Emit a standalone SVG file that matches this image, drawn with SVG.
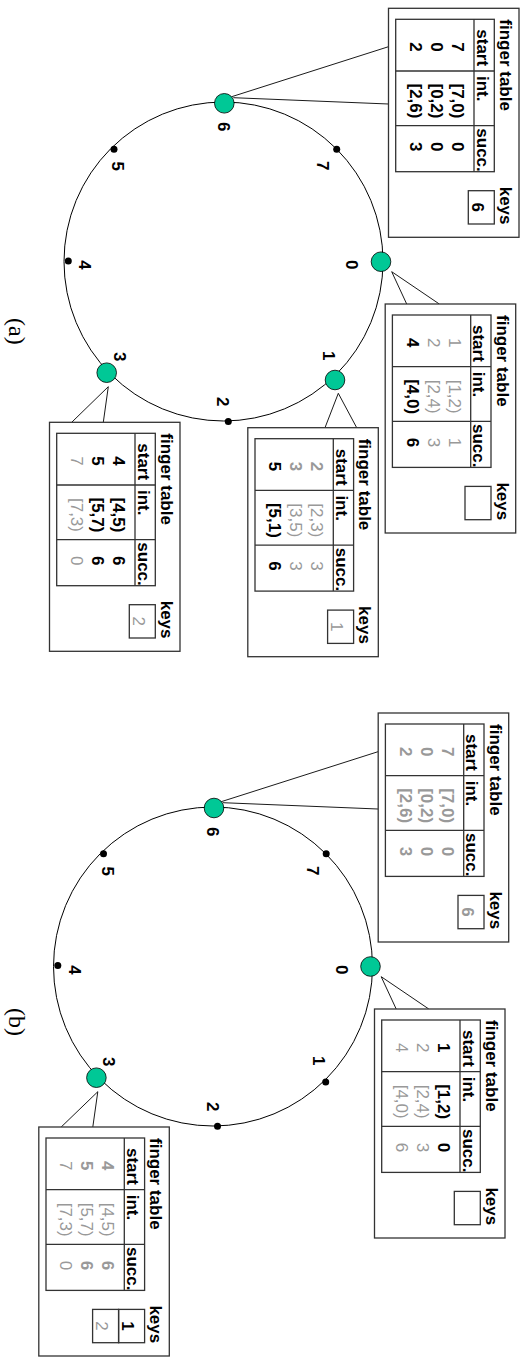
<svg xmlns="http://www.w3.org/2000/svg" xmlns:xlink="http://www.w3.org/1999/xlink" width="526" height="1364" viewBox="0 0 526 1364">
<style>
.frame{fill:#fff;stroke:#333;stroke-width:1.3}
.tbl{fill:none;stroke:#333;stroke-width:1.3}
.hdr{font-family:"Liberation Sans",Arial,sans-serif;font-weight:bold;font-size:17px;fill:#000}
.d{font-family:"Liberation Sans",Arial,sans-serif;font-size:17px;text-anchor:middle}
.bk{font-weight:bold;fill:#000}
.g{fill:#999}
.gb{fill:#999;font-weight:bold}
.ring{fill:none;stroke:#000;stroke-width:1}
.peer{fill:#00c896;stroke:#000;stroke-width:0.8}
.dot{fill:#000}
.lbl{font-family:"Liberation Sans",Arial,sans-serif;font-weight:bold;font-size:17px;text-anchor:middle;fill:#000}
.cap{font-family:"Liberation Serif","Times New Roman",serif;font-size:24px;fill:#000}
.conn line{stroke:#000;stroke-width:0.9}
</style>
<defs>
<g id="frame">
<rect class="frame" x="0" y="0" width="229" height="130.5"/>
<text class="hdr" x="11" y="19">finger table</text>
<text class="hdr" x="178.4" y="19">keys</text>
<rect class="tbl" x="11" y="24.7" width="152.4" height="98.6"/>
<path class="tbl" d="M11 45H163.4M62.7 24.7V123.3M117.4 24.7V123.3"/>
<text class="hdr" x="21" y="42.3">start</text>
<text class="hdr" x="67.7" y="42.3">int.</text>
<text class="hdr" x="120" y="42.3">succ.</text>
<rect class="tbl" x="182.4" y="24.7" width="33.3" height="26"/>
</g>
</defs>
<g transform="translate(526,0) rotate(90)">
<!-- (a) -->
<g id="ring-a">
<circle class="ring" cx="261.5" cy="302.5" r="159.5"/>
</g>
<g id="connectors" class="conn">
<line x1="96.7" y1="294.3" x2="46.7" y2="137.5"/>
<line x1="97.7" y1="292.7" x2="104" y2="137.5"/>
<line x1="271.7" y1="134.3" x2="304" y2="86.7"/>
<line x1="271.7" y1="134.3" x2="304" y2="119.3"/>
<line x1="393.3" y1="187.7" x2="427.7" y2="201"/>
<line x1="393.3" y1="187.7" x2="427.7" y2="169.3"/>
<line x1="386.7" y1="417.7" x2="422.3" y2="454.3"/>
<line x1="386.7" y1="417.7" x2="422.3" y2="422.7"/>
<line x1="801.7" y1="304.8" x2="751.7" y2="148"/>
<line x1="802.7" y1="303.2" x2="809" y2="148"/>
<line x1="976.7" y1="144.8" x2="1009" y2="97.2"/>
<line x1="976.7" y1="144.8" x2="1009" y2="129.8"/>
<line x1="1091.7" y1="428.2" x2="1127" y2="464.8"/>
<line x1="1091.7" y1="428.2" x2="1127" y2="433.2"/>
</g>
<g id="node-a0"><circle class="peer" cx="261.7" cy="145" r="9.8"/><text class="lbl" x="264.7" y="179.6">0</text></g>
<g id="node-a1"><circle class="peer" cx="380" cy="191" r="9.8"/><text class="lbl" x="355.8" y="202.9">1</text></g>
<g id="node-a2"><circle class="dot" cx="421.5" cy="297.7" r="3.5"/><text class="lbl" x="401.7" y="308.8">2</text></g>
<g id="node-a3"><circle class="peer" cx="372.7" cy="419.3" r="9.8"/><text class="lbl" x="356.7" y="412.1">3</text></g>
<g id="node-a4"><circle class="dot" cx="261" cy="457.7" r="3.5"/><text class="lbl" x="265" y="446.8">4</text></g>
<g id="node-a5"><circle class="dot" cx="149.3" cy="412" r="3.5"/><text class="lbl" x="166.3" y="413.8">5</text></g>
<g id="node-a6"><circle class="peer" cx="103.3" cy="301.7" r="9.8"/><text class="lbl" x="126.7" y="308.4">6</text></g>
<g id="node-a7"><circle class="dot" cx="149.3" cy="189.3" r="3.5"/><text class="lbl" x="165.8" y="208.8">7</text></g>

<g id="table-a6" transform="translate(8.3,7)">
<use xlink:href="#frame"/>
<g class="d">
<text class="bk" x="38.7" y="67">7</text><text class="bk" x="92.7" y="67">[7,0)</text><text class="bk" x="138.4" y="67">0</text>
<text class="bk" x="38.7" y="88">0</text><text class="bk" x="92.7" y="88">[0,2)</text><text class="bk" x="138.4" y="88">0</text>
<text class="bk" x="38.7" y="109">2</text><text class="bk" x="92.7" y="109">[2,6)</text><text class="bk" x="138.4" y="109">3</text>
<text class="bk" x="199" y="47">6</text>
</g>
</g>
<g id="table-a0" transform="translate(304,10.3)">
<use xlink:href="#frame"/>
<g class="d">
<text class="g" x="38.7" y="67">1</text><text class="g" x="92.7" y="67">[1,2)</text><text class="g" x="138.4" y="67">1</text>
<text class="g" x="38.7" y="88">2</text><text class="g" x="92.7" y="88">[2,4)</text><text class="g" x="138.4" y="88">3</text>
<text class="bk" x="38.7" y="109">4</text><text class="bk" x="92.7" y="109">[4,0)</text><text class="bk" x="138.4" y="109">6</text>
</g>
</g>
<g id="table-a1" transform="translate(427.7,147.7)">
<use xlink:href="#frame"/>
<g class="d">
<text class="gb" x="38.7" y="67">2</text><text class="g" x="92.7" y="67">[2,3)</text><text class="g" x="138.4" y="67">3</text>
<text class="gb" x="38.7" y="88">3</text><text class="g" x="92.7" y="88">[3,5)</text><text class="g" x="138.4" y="88">3</text>
<text class="bk" x="38.7" y="109">5</text><text class="bk" x="92.7" y="109">[5,1)</text><text class="bk" x="138.4" y="109">6</text>
<text class="g" x="199" y="47">1</text>
</g>
</g>
<g id="table-a3" transform="translate(422.3,346)">
<use xlink:href="#frame"/>
<g class="d">
<text class="bk" x="38.7" y="67">4</text><text class="bk" x="92.7" y="67">[4,5)</text><text class="bk" x="138.4" y="67">6</text>
<text class="bk" x="38.7" y="88">5</text><text class="bk" x="92.7" y="88">[5,7)</text><text class="bk" x="138.4" y="88">6</text>
<text class="g" x="38.7" y="109">7</text><text class="g" x="92.7" y="109">[7,3)</text><text class="g" x="138.4" y="109">0</text>
<text class="g" x="199" y="47">2</text>
</g>
</g>
<text class="cap" x="318" y="517">(a)</text>

<!-- (b) -->
<g id="ring-b">
<circle class="ring" cx="966.5" cy="313" r="159.5"/>
</g>
<g id="node-b0"><circle class="peer" cx="966.5" cy="155.5" r="9.8"/><text class="lbl" x="969.7" y="190.1">0</text></g>
<g id="node-b1"><circle class="dot" cx="1082" cy="200.3" r="3.5"/><text class="lbl" x="1060.8" y="213.4">1</text></g>
<g id="node-b2"><circle class="dot" cx="1126.2" cy="308.5" r="3.5"/><text class="lbl" x="1106.7" y="319.3">2</text></g>
<g id="node-b3"><circle class="peer" cx="1077.7" cy="429.6" r="9.8"/><text class="lbl" x="1061.7" y="422.6">3</text></g>
<g id="node-b4"><circle class="dot" cx="965.5" cy="468.2" r="3.5"/><text class="lbl" x="970" y="457.3">4</text></g>
<g id="node-b5"><circle class="dot" cx="853.8" cy="422.5" r="3.5"/><text class="lbl" x="871.3" y="424.3">5</text></g>
<g id="node-b6"><circle class="peer" cx="808" cy="312" r="9.8"/><text class="lbl" x="831.7" y="318.9">6</text></g>
<g id="node-b7"><circle class="dot" cx="853.8" cy="199.8" r="3.5"/><text class="lbl" x="870.8" y="219.3">7</text></g>

<g id="table-b6" transform="translate(713,17.3)">
<use xlink:href="#frame"/>
<g class="d">
<text class="gb" x="38.7" y="67">7</text><text class="gb" x="92.7" y="67">[7,0)</text><text class="gb" x="138.4" y="67">0</text>
<text class="gb" x="38.7" y="88">0</text><text class="gb" x="92.7" y="88">[0,2)</text><text class="gb" x="138.4" y="88">0</text>
<text class="gb" x="38.7" y="109">2</text><text class="gb" x="92.7" y="109">[2,6)</text><text class="gb" x="138.4" y="109">3</text>
<text class="gb" x="199" y="47">6</text>
</g>
</g>
<g id="table-b0" transform="translate(1009,21)">
<use xlink:href="#frame"/>
<g class="d">
<text class="bk" x="38.7" y="67">1</text><text class="bk" x="92.7" y="67">[1,2)</text><text class="bk" x="138.4" y="67">0</text>
<text class="g" x="38.7" y="88">2</text><text class="g" x="92.7" y="88">[2,4)</text><text class="g" x="138.4" y="88">3</text>
<text class="g" x="38.7" y="109">4</text><text class="g" x="92.7" y="109">[4,0)</text><text class="g" x="138.4" y="109">6</text>
</g>
</g>
<g id="table-b3" transform="translate(1127,356.7)">
<use xlink:href="#frame"/>
<rect class="tbl" x="182.4" y="50.7" width="33.3" height="26"/>
<g class="d">
<text class="gb" x="38.7" y="67">4</text><text class="g" x="92.7" y="67">[4,5)</text><text class="gb" x="138.4" y="67">6</text>
<text class="gb" x="38.7" y="88">5</text><text class="g" x="92.7" y="88">[5,7)</text><text class="gb" x="138.4" y="88">6</text>
<text class="g" x="38.7" y="109">7</text><text class="g" x="92.7" y="109">[7,3)</text><text class="g" x="138.4" y="109">0</text>
<text class="bk" x="199" y="47">1</text>
<text class="g" x="199" y="73">2</text>
</g>
</g>
<text class="cap" x="1008" y="517">(b)</text>
</g>
</svg>
